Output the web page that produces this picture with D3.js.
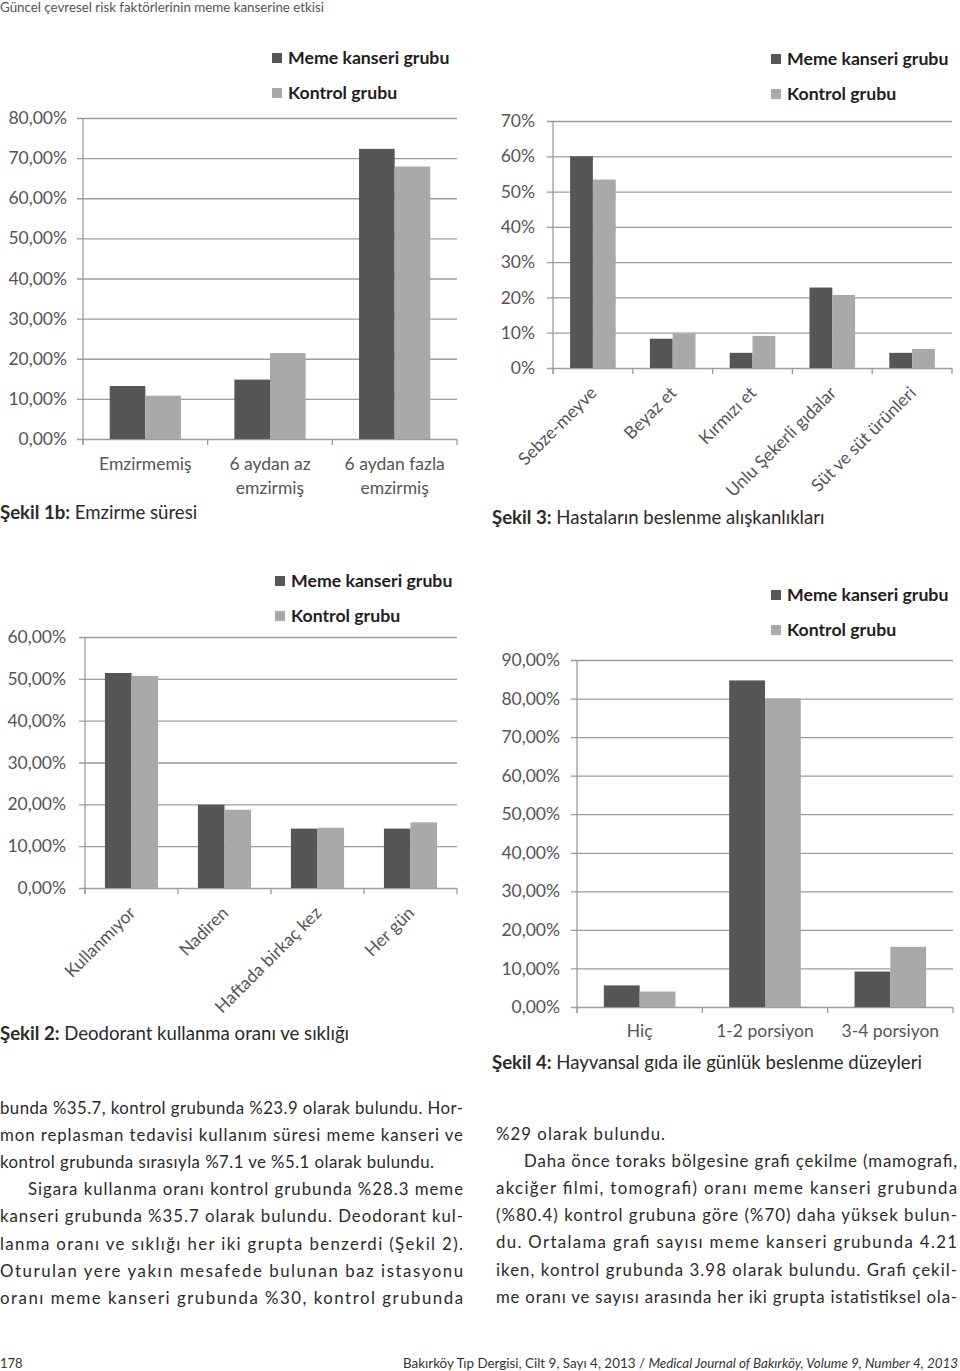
<!DOCTYPE html>
<html><head><meta charset="utf-8">
<script src="https://cdn.jsdelivr.net/npm/d3@7"></script>
<style>body{margin:0;background:#fff} svg{display:block}</style>
</head><body>
<svg id="page" width="960" height="1371"></svg>
<script>
// ---------- data ----------
const seriesNames = ["Meme kanseri grubu", "Kontrol grubu"];

const fig1Categories = ["Emzirmemiş", "6 aydan az|emzirmiş", "6 aydan fazla|emzirmiş"];
const fig1Cancer  = [13.2, 14.8, 72.3];
const fig1Control = [10.8, 21.4, 67.9];
const fig1Ticks   = [0, 10, 20, 30, 40, 50, 60, 70, 80];

const fig3Categories = ["Sebze-meyve", "Beyaz et", "Kırmızı et", "Unlu Şekerli gıdalar", "Süt ve süt ürünleri"];
const fig3Cancer  = [60.0, 8.3, 4.3, 22.8, 4.3];
const fig3Control = [53.4, 9.8, 9.1, 20.7, 5.4];
const fig3Ticks   = [0, 10, 20, 30, 40, 50, 60, 70];

const fig2Categories = ["Kullanmıyor", "Nadiren", "Haftada birkaç kez", "Her gün"];
const fig2Cancer  = [51.4, 19.9, 14.2, 14.2];
const fig2Control = [50.7, 18.7, 14.4, 15.7];
const fig2Ticks   = [0, 10, 20, 30, 40, 50, 60];

const fig4Categories = ["Hiç", "1-2 porsiyon", "3-4 porsiyon"];
const fig4Cancer  = [5.6, 84.7, 9.2];
const fig4Control = [4.0, 80.0, 15.6];
const fig4Ticks   = [0, 10, 20, 30, 40, 50, 60, 70, 80, 90];

const captions = [
  ["Şekil 1b:", " Emzirme süresi"],
  ["Şekil 3:", " Hastaların beslenme alışkanlıkları"],
  ["Şekil 2:", " Deodorant kullanma oranı ve sıklığı"],
  ["Şekil 4:", " Hayvansal gıda ile günlük beslenme düzeyleri"]
];

const headerText = "Güncel çevresel risk faktörlerinin meme kanserine etkisi";

const leftColumn = [
  "bunda %35.7, kontrol grubunda %23.9 olarak bulundu. Hor-",
  "mon replasman tedavisi kullanım süresi meme kanseri ve",
  "kontrol grubunda sırasıyla %7.1 ve %5.1 olarak bulundu.",
  "Sigara kullanma oranı kontrol grubunda %28.3 meme",
  "kanseri grubunda %35.7 olarak bulundu. Deodorant kul-",
  "lanma oranı ve sıklığı her iki grupta benzerdi (Şekil 2).",
  "Oturulan yere yakın mesafede bulunan baz istasyonu",
  "oranı meme kanseri grubunda %30, kontrol grubunda"
];
const rightColumn = [
  "%29 olarak bulundu.",
  "Daha önce toraks bölgesine grafi çekilme (mamografi,",
  "akciğer filmi, tomografi) oranı meme kanseri grubunda",
  "(%80.4) kontrol grubuna göre (%70) daha yüksek bulun-",
  "du. Ortalama grafi sayısı meme kanseri grubunda 4.21",
  "iken, kontrol grubunda 3.98 olarak bulundu. Grafi çekil-",
  "me oranı ve sayısı arasında her iki grupta istatistiksel ola-"
];
const footerPage = "178";
const footerJournal = "Bakırköy Tıp Dergisi, Cilt 9, Sayı 4, 2013 / ";
const footerJournalItalic = "Medical Journal of Bakırköy, Volume 9, Number 4, 2013";

// ---------- drawing ----------
const svg = d3.select("#page");
const FONT = "Lato, 'Open Sans', sans-serif";
const colors = ["#565656", "#a9a9a9"];
const gridColor = "#9b9b9b";

function drawChart(o) {
  const g = svg.append("g");
  const x = d3.scaleBand().domain(d3.range(o.cats.length)).range([o.left, o.right]).padding(0);
  const x1 = d3.scaleBand().domain([0, 1]).range([0, x.bandwidth()]).paddingInner(0).paddingOuter(0.75);
  const y = d3.scaleLinear().domain([0, o.maxV]).range([o.y0, o.yTop]);

  // gridlines + tick labels
  const ax = g.append("g").attr("transform", `translate(${o.right},0)`)
    .call(d3.axisLeft(y).tickValues(o.ticks).tickSize(o.right - o.left + 6)
      .tickPadding(o.pad).tickFormat(o.fmt));
  ax.select(".domain").remove();
  ax.selectAll("line").attr("stroke", gridColor).attr("stroke-width", 1.3);
  ax.selectAll("text").attr("font-family", FONT).attr("font-size", 17.5)
    .attr("fill", "#555");

  // y axis line
  g.append("line").attr("x1", o.left).attr("x2", o.left).attr("y1", o.y0 + 6).attr("y2", y(o.maxV))
    .attr("stroke", gridColor).attr("stroke-width", 1.3);
  // x axis category boundary ticks
  const bounds = d3.range(o.cats.length).map(i => x(i)).concat([o.right]);
  g.selectAll(".xt").data(bounds).join("line")
    .attr("x1", d => d).attr("x2", d => d).attr("y1", o.y0).attr("y2", o.y0 + 6)
    .attr("stroke", gridColor).attr("stroke-width", 1.3);

  // bars
  o.series.forEach((vals, s) => {
    g.selectAll(".b" + s).data(vals).join("rect")
      .attr("x", (d, i) => x(i) + x1(s))
      .attr("y", d => y(d))
      .attr("width", x1.bandwidth())
      .attr("height", d => o.y0 - y(d))
      .attr("fill", colors[s]);
  });

  // category labels
  if (o.rotated) {
    g.selectAll(".cl").data(o.cats).join("text")
      .attr("transform", (d, i) => `translate(${x(i) + x.bandwidth() / 2 + o.rdx},${o.y0 + o.rdy}) rotate(-45)`)
      .attr("text-anchor", "end")
      .attr("font-family", FONT).attr("font-size", 17.5).attr("fill", "#555")
      .text(d => d);
  } else {
    const t = g.selectAll(".cl").data(o.cats).join("text")
      .attr("text-anchor", "middle")
      .attr("font-family", FONT).attr("font-size", 17.5).attr("fill", "#555");
    t.each(function (d, i) {
      const parts = d.split("|");
      d3.select(this).selectAll("tspan").data(parts).join("tspan")
        .attr("x", x(i) + x.bandwidth() / 2)
        .attr("y", (p, k) => o.labelY + k * 24)
        .text(p => p);
    });
  }

  // legend
  seriesNames.forEach((name, s) => {
    const ly = o.legendY + s * 35;
    g.append("rect").attr("x", o.legendX).attr("y", ly - 5).attr("width", 10).attr("height", 10)
      .attr("fill", colors[s]);
    g.append("text").attr("x", o.legendX + 16).attr("y", ly).attr("dy", "0.36em")
      .attr("font-family", FONT).attr("font-weight", "bold").attr("font-size", 17.7)
      .attr("fill", "#1e1e1e").text(name);
  });

  // caption
  const c = svg.append("text").attr("x", o.capX).attr("y", o.capY)
    .attr("font-family", FONT).attr("font-size", 18.6).attr("fill", "#2a2a2a");
  c.append("tspan").attr("font-weight", "bold").text(o.caption[0]);
  c.append("tspan").text(o.caption[1]);
}

const pctComma = d => d3.format(".2f")(d).replace(".", ",") + "%";
const pctInt = d => d + "%";

drawChart({cats: fig1Categories, series: [fig1Cancer, fig1Control], ticks: fig1Ticks, maxV: 80,
  fmt: pctComma, left: 83, right: 457, y0: 439, yTop: 118, pad: 10,
  rotated: false, labelY: 470, legendX: 272, legendY: 58, caption: captions[0], capX: 0, capY: 519});

drawChart({cats: fig3Categories, series: [fig3Cancer, fig3Control], ticks: fig3Ticks, maxV: 70,
  fmt: pctInt, left: 553, right: 952, y0: 368, yTop: 121, pad: 12,
  rotated: true, rdx: 5, rdy: 26, legendX: 771, legendY: 59, caption: captions[1], capX: 492, capY: 524});

drawChart({cats: fig2Categories, series: [fig2Cancer, fig2Control], ticks: fig2Ticks, maxV: 60,
  fmt: pctComma, left: 85, right: 457, y0: 888, yTop: 637, pad: 13,
  rotated: true, rdx: 5, rdy: 26, legendX: 275, legendY: 581, caption: captions[2], capX: 0, capY: 1040});

drawChart({cats: fig4Categories, series: [fig4Cancer, fig4Control], ticks: fig4Ticks, maxV: 90,
  fmt: pctComma, left: 577, right: 953, y0: 1007, yTop: 660, pad: 11,
  rotated: false, labelY: 1037, legendX: 771, legendY: 595, caption: captions[3], capX: 492, capY: 1069});

// header
svg.append("text").attr("x", 0).attr("y", 12).attr("font-family", FONT).attr("font-size", 12.5)
  .attr("fill", "#555").attr("textLength", 324).attr("lengthAdjust", "spacingAndGlyphs").text(headerText);

// body columns
function drawColumn(lines, x0, x1, y0, indentIdx, lastIdx, lastWidths) {
  lines.forEach((line, i) => {
    const xs = indentIdx.includes(i) ? x0 + 28 : x0;
    const t = svg.append("text").attr("x", xs).attr("y", y0 + i * 27.1)
      .attr("font-family", FONT).attr("font-size", 16.8).attr("fill", "#2a2a2a").text(line);
    const li = lastIdx.indexOf(i);
    const w = li >= 0 ? lastWidths[li] : x1 - xs;
    t.attr("textLength", w).attr("lengthAdjust", "spacing");
  });
}
drawColumn(leftColumn, 0, 463, 1114, [3], [2], [434]);
drawColumn(rightColumn, 496, 957, 1140, [1], [0], [169]);

// footer
svg.append("text").attr("x", 0).attr("y", 1368).attr("font-family", FONT).attr("font-size", 13)
  .attr("fill", "#333").text(footerPage);
const ft = svg.append("text").attr("x", 403).attr("y", 1368).attr("font-family", FONT).attr("font-size", 13)
  .attr("fill", "#333").attr("textLength", 555).attr("lengthAdjust", "spacingAndGlyphs");
ft.append("tspan").text(footerJournal);
ft.append("tspan").attr("font-style", "italic").text(footerJournalItalic);
</script>
</body></html>
